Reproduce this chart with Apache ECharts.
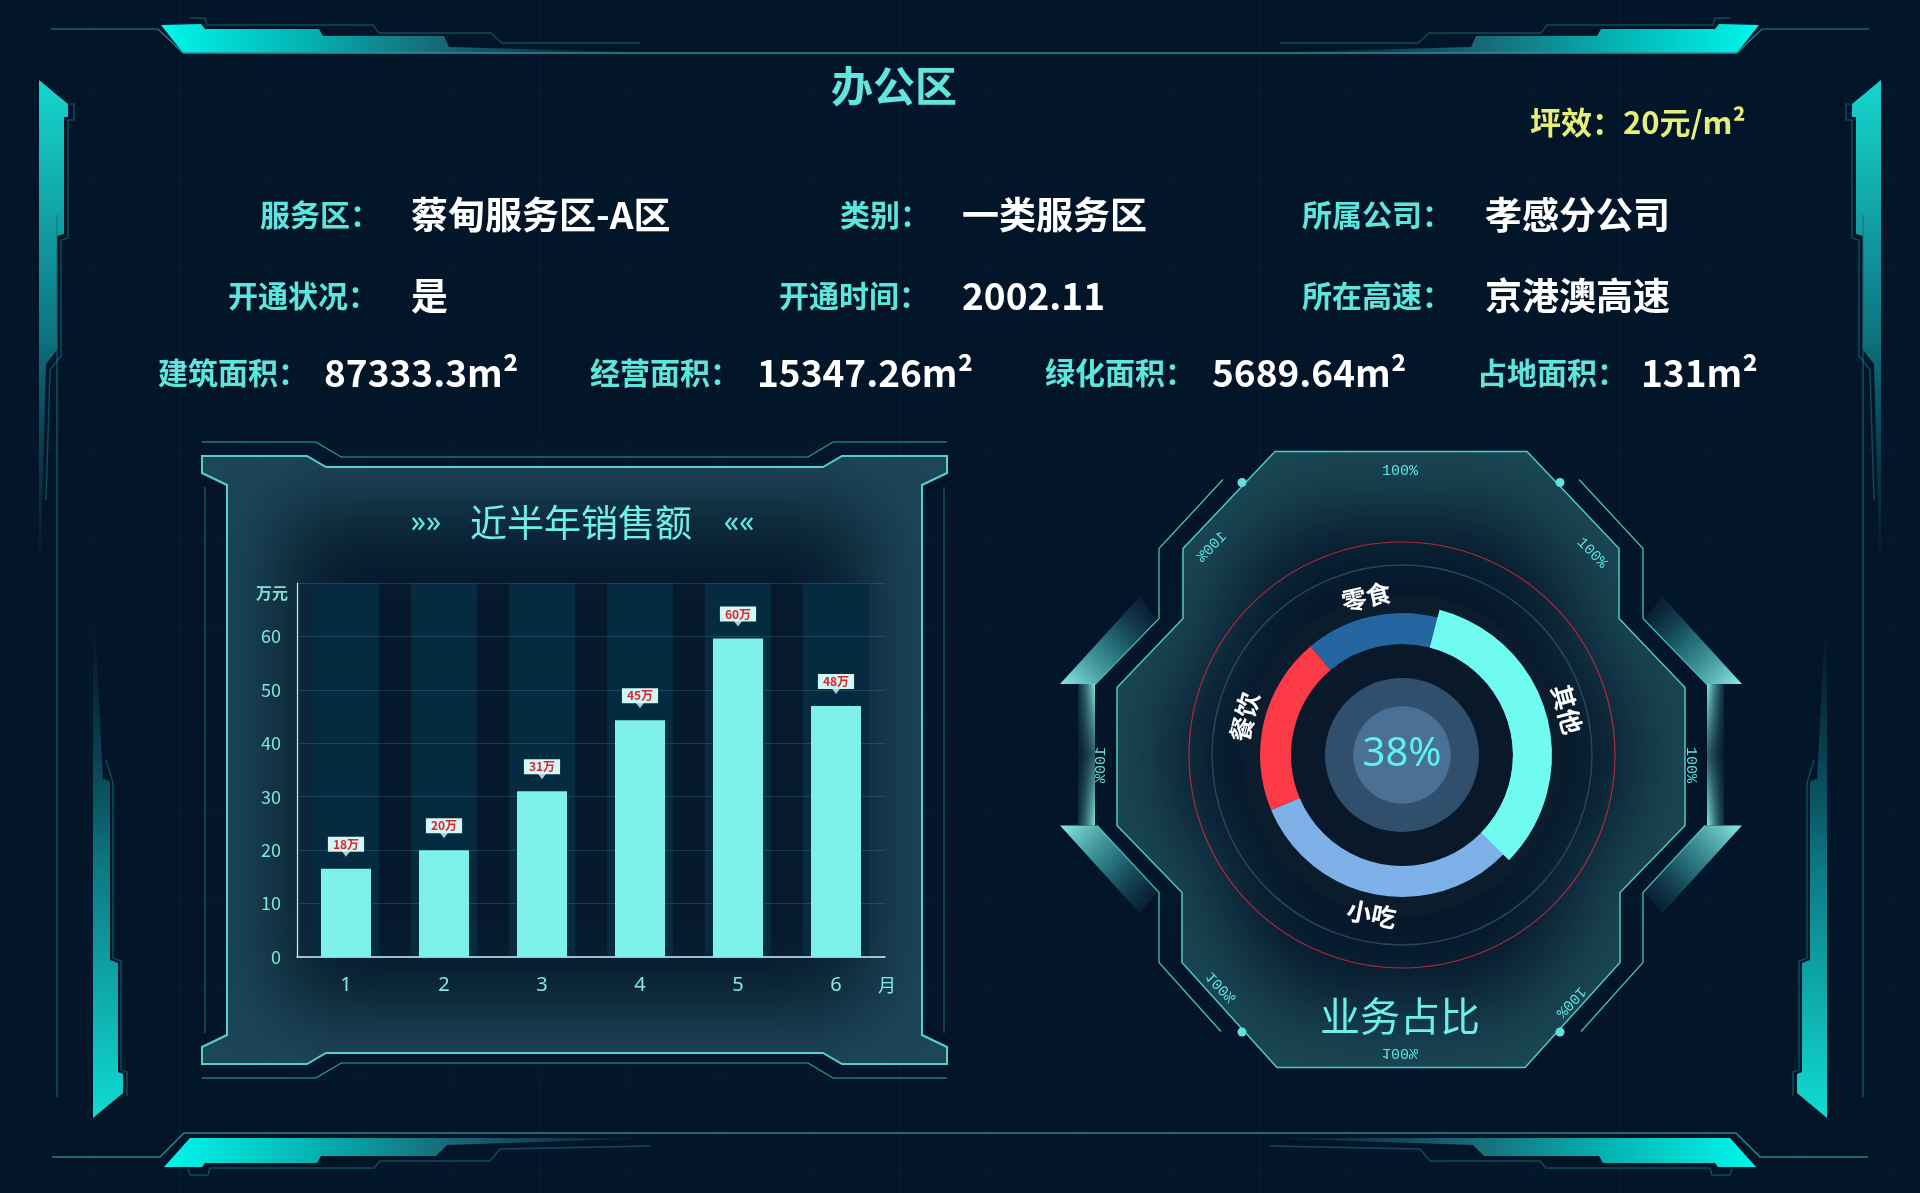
<!DOCTYPE html>
<html><head><meta charset="utf-8">
<script src="https://cdn.jsdelivr.net/npm/echarts@6/dist/echarts.min.js"></script>
<style>html,body{margin:0;padding:0;background:#031529;}#c{width:1920px;height:1193px;}</style>
</head><body><div id="c"></div>
<script>
// ---------------- data ----------------
const pageTitle = '办公区';
const efficiencyText = '坪效：20元/m²';
const row1Labels = ['服务区：', '类别：', '所属公司：'];
const row1Values = ['蔡甸服务区-A区', '一类服务区', '孝感分公司'];
const row2Labels = ['开通状况：', '开通时间：', '所在高速：'];
const row2Values = ['是', '2002.11', '京港澳高速'];
const row3Labels = ['建筑面积：', '经营面积：', '绿化面积：', '占地面积：'];
const row3Values = ['87333.3m²', '15347.26m²', '5689.64m²', '131m²'];

const salesTitle = '近半年销售额';
const months = ['1', '2', '3', '4', '5', '6'];
const sales = [16.5, 20, 31, 44.3, 59.6, 47];
const salesLabels = ['18万', '20万', '31万', '45万', '60万', '48万'];
const bandValues = [70, 70, 70, 70, 70, 70];
const yUnit = '万元';
const xUnit = '月';

const bizTitle = '业务占比';
const bizNames = ['其他', '小吃', '餐饮', '零食'];
const bizValues = [33, 31, 20, 15];
const bizColors = ['#6ffbf0', '#7eb1e8', '#fd3b48', '#2366a1'];
const centerPercent = '38%';
const ringTickText = '100%';

// ---------------- helpers ----------------
const W = 1920, H = 1193;
const CJK = '"Noto Sans CJK SC", "Noto Sans", sans-serif';
const LG = (x0, y0, x1, y1, stops) => new echarts.graphic.LinearGradient(x0, y0, x1, y1, stops.map(s => ({offset: s[0], color: s[1]})));
const mx = pts => pts.map(p => [W - p[0], p[1]]);
const g = [];
const OFF = 4000;
function poly(points, style, z) { g.push({type: 'polygon', shape: {points}, style, z: z === undefined ? -10 : z, silent: true}); }
function pline(points, stroke, lw, z) { g.push({type: 'polyline', shape: {points}, style: {stroke, lineWidth: lw, fill: null}, z: z === undefined ? -10 : z, silent: true}); }
function circ(cx, cy, r, style, z) { g.push({type: 'circle', shape: {cx, cy, r}, style, z: z === undefined ? -10 : z, silent: true}); }
// soft dark shape: drawn off-canvas, only its blurred shadow lands on the page
function softPoly(points, color, blur, z) {
  g.push({type: 'polygon', shape: {points: points.map(p => [p[0] - OFF, p[1]])},
    style: {fill: color, shadowBlur: blur, shadowColor: color, shadowOffsetX: OFF, shadowOffsetY: 0}, z, silent: true});
}
function txt(x, y, text, o) {
  g.push({type: 'text', x, y, rotation: o.rotation || 0, scaleX: o.scaleX || 1, scaleY: o.scaleY || 1,
    z: o.z === undefined ? 5 : o.z, silent: true,
    style: {text, fill: o.fill, fontSize: o.fontSize, fontFamily: o.fontFamily || CJK,
      fontWeight: o.fontWeight || 'normal', align: o.align || 'left', verticalAlign: 'middle'}});
}

// background grid
for (let x = 90; x < W; x += 90) g.push({type: 'line', shape: {x1: x, y1: 0, x2: x, y2: H}, style: {stroke: 'rgba(40,110,140,0.12)', lineWidth: 1}, z: -20, silent: true});
for (let y = 90; y < H; y += 90) g.push({type: 'line', shape: {x1: 0, y1: y, x2: W, y2: y}, style: {stroke: 'rgba(40,110,140,0.12)', lineWidth: 1}, z: -20, silent: true});

// top decoration
const topFill = [[161,25],[201,24],[205,29],[319,29],[323,36],[444,36],[449,47],[640,52],[640,53],[183,53]];
const decoStops = [[0,'#00f7ec'],[0.3,'#03b3b2'],[0.6,'#1a6272'],[1,'rgba(30,90,110,0)']];
poly(topFill, {fill: LG(0,0,1,0,decoStops)});
poly(mx(topFill), {fill: LG(1,0,0,0,decoStops)});
pline([[183,53],[W-183,53]], '#2c8e9a', 1.5);
pline([[51,29],[158,29],[183,53]], '#2a8391', 1.2);
pline(mx([[51,29],[158,29],[183,53]]), '#2a8391', 1.2);
const topStep = [[190,18],[205,18],[207,25],[373,25],[379,33],[491,33],[502,43],[640,43]];
pline(topStep, '#0f4b5b', 1.5); pline(mx(topStep), '#0f4b5b', 1.5);

// bottom decoration
pline([[52,1157],[160,1157],[184,1133],[W-184,1133],[W-160,1157],[W-52,1157]], '#2a8290', 1.5);
const botFill = [[190,1138],[661,1138],[447,1145],[436,1156],[321,1156],[317,1163],[205,1163],[202,1167],[164,1167]];
poly(botFill, {fill: LG(0,0,1,0,decoStops)});
poly(mx(botFill), {fill: LG(1,0,0,0,decoStops)});
const botStep = [[188,1169],[190,1175],[208,1175],[210,1168],[374,1168],[380,1161],[490,1161],[500,1149],[650,1146]];
pline(botStep, '#0f4b5b', 1.5); pline(mx(botStep), '#0f4b5b', 1.5);

// side bars
const upBar = [[39,80],[68,104],[68,117],[64,117],[64,234],[57,236],[57,350],[46,364],[40,580],[39,580]];
const upBarFill = () => LG(0,0,0,1,[[0,'#16d6ce'],[0.5,'#0e7682'],[1,'rgba(20,80,100,0)']]);
poly(upBar, {fill: upBarFill()}); poly(mx(upBar), {fill: upBarFill()});
const upOut = [[70,104],[74,104],[74,120],[68,120],[68,238],[61,240],[61,356],[50,370],[46,500]];
pline(upOut, '#0e4b5a', 1.5); pline(mx(upOut), '#0e4b5a', 1.5);
pline([[57,215],[57,1097]], '#1b6a78', 1); pline(mx([[57,215],[57,1097]]), '#1b6a78', 1);
const lowBar = [[93,623],[95,623],[103,779],[110,781],[110,960],[118,963],[118,1072],[123,1074],[123,1093],[93,1118]];
const lowBarFill = () => LG(0,0,0,1,[[0,'rgba(20,80,100,0)'],[0.5,'#0d7a84'],[1,'#10dbd2']]);
poly(lowBar, {fill: lowBarFill()}); poly(mx(lowBar), {fill: lowBarFill()});
const lowOut = [[106,760],[113,783],[113,958],[121,961],[121,1070],[127,1072],[127,1096]];
pline(lowOut, '#0e4b5a', 1.5); pline(mx(lowOut), '#0e4b5a', 1.5);

// bar panel
const panelPts = [[202,456],[307,456],[326,467],[823,467],[842,456],[947,456],[947,473],[922,485],[922,1035],[947,1047],[947,1064],[842,1064],[823,1053],[326,1053],[307,1064],[202,1064],[202,1047],[227,1035],[227,485],[202,473]];
poly(panelPts, {fill: '#1c4757'});
softPoly([[282,510],[867,510],[867,1008],[282,1008]], '#05182c', 80, -9);
poly(panelPts, {fill: null, stroke: '#55d0ce', lineWidth: 2}, -8);
pline([[202,442],[316,442],[341,457],[808,457],[833,442],[947,442]], '#3aa6aa', 1.2);
pline([[202,1078],[316,1078],[341,1063],[808,1063],[833,1078],[947,1078]], '#3aa6aa', 1.2);
pline([[205,487],[205,1033]], '#1f5d6a', 1.2); pline([[944,487],[944,1033]], '#1f5d6a', 1.2);

// octagon panel
const OX = 1401, OY = 759.5;
const octRel = [[-126,-308],[-218,-211],[-218,-141],[-284,-72],[-284,66],[-219,133],[-219,203],[-124,308],[124,308],[219,203],[219,133],[284,66],[284,-72],[218,-141],[218,-211],[126,-308]];
const oct = octRel.map(p => [OX + p[0], OY + p[1]]);
poly(oct, {fill: '#1a4654'});
softPoly(octRel.map(p => [OX + p[0] * 0.8, OY + p[1] * 0.8]), '#05172b', 80, -9);
poly(oct, {fill: null, stroke: '#4fc9c6', lineWidth: 1.5}, -8);
const bracketTL = [[-178,-280],[-242,-211],[-242,-141],[-306,-75]];
const bracketBL = [[-304,66],[-242,133],[-242,203],[-180,272]];
[bracketTL, bracketBL].forEach(b => {
  pline(b.map(p => [OX + p[0], OY + p[1]]), '#45bdbb', 1.3, -8);
  pline(b.map(p => [OX - p[0], OY + p[1]]), '#45bdbb', 1.3, -8);
});
const wingU = [[-341,-75.5],[-306,-75.5],[-244,-140],[-261,-163]];
const wingL = [[-341,66],[-304,66],[-243,132],[-261,154]];
const wingStops = [[0,'#8aece6'],[0.5,'rgba(60,170,175,0.6)'],[1,'rgba(30,90,110,0)']];
[1, -1].forEach(s => {
  poly(wingU.map(p => [OX + s * p[0], OY + p[1]]), {fill: LG(s > 0 ? 0 : 1, 1, s > 0 ? 1 : 0, 0, wingStops)}, -8);
  poly(wingL.map(p => [OX + s * p[0], OY + p[1]]), {fill: LG(s > 0 ? 0 : 1, 0, s > 0 ? 1 : 0, 1, wingStops)}, -8);
  const sx = s > 0 ? OX - 323 : OX + 306;
  g.push({type: 'rect', shape: {x: sx, y: OY - 75.5, width: 17, height: 141.5},
    style: {fill: LG(s > 0 ? 0 : 1, 0, s > 0 ? 1 : 0, 0, [[0,'rgba(20,70,80,0.5)'],[1,'#86e9e3']])}, z: -8, silent: true});
  g.push({type: 'rect', shape: {x: sx, y: OY - 75.5, width: 17, height: 141.5},
    style: {fill: LG(0,0,0,1, [[0,'rgba(4,20,40,0)'],[0.5,'rgba(4,20,40,0.65)'],[1,'rgba(4,20,40,0)']])}, z: -8, silent: true});
});
[[-159,-277],[159,-277],[-159,272.5],[159,272.5]].forEach(p => circ(OX + p[0], OY + p[1], 4.5, {fill: '#62e0dc'}, -7));

// ring tick labels around octagon
const tickPos = [
  [1400, 471, 0, 1], [1592, 553, -0.8, 1], [1691, 765, -Math.PI / 2, 1], [1571, 1002, -2.33, 1],
  [1400, 1053, 0, -1], [1221, 987, -0.8, -1], [1101, 765, -Math.PI / 2, -1], [1212, 547, -2.33, -1]
];
tickPos.forEach(t => txt(t[0], t[1], ringTickText, {rotation: t[2], scaleY: t[3], fill: '#5ee6df', fontSize: 15, fontFamily: '"Liberation Mono", "DejaVu Sans Mono", monospace', align: 'center'}));

// donut decorations
const PX = 1402, PY = 755;
circ(PX, PY, 213, {fill: null, stroke: '#b0283c', lineWidth: 1.2}, -7);
circ(PX, PY, 190, {fill: null, stroke: '#2a4558', lineWidth: 1.5}, -7);
circ(PX, PY, 161, {fill: '#0b1c2d'}, -7);
circ(PX, PY, 111, {fill: '#0a192a'}, -6);
circ(PX, PY, 77, {fill: '#2f4f6d'}, -6);
circ(PX, PY, 48.7, {fill: '#4a7093'}, -6);
txt(PX, PY, centerPercent, {fill: '#5df2ea', fontSize: 40, fontFamily: '"Noto Sans", sans-serif', align: 'center'});
txt(1400, 1016, bizTitle, {fill: '#6ef0ea', fontSize: 40, align: 'center'});

// header texts
txt(894, 86, pageTitle, {fill: '#63e4dc', fontSize: 42, fontWeight: 'bold', align: 'center'});
txt(1530, 122, efficiencyText, {fill: '#e6ef78', fontSize: 31, fontWeight: 'bold'});
const LBL = '#5ce6dd', VAL = '#ffffff';
const rowsY = [215, 296, 373];
const row1LX = [260, 840, 1302], row1VX = [411, 962, 1485];
const row2LX = [228, 779, 1302], row2VX = [411, 962, 1485];
const row3LX = [158, 590, 1045, 1477], row3VX = [324, 757, 1212, 1641];
row1Labels.forEach((t, i) => { txt(row1LX[i], rowsY[0], t, {fill: LBL, fontSize: 30, fontWeight: 'bold'}); txt(row1VX[i], rowsY[0], row1Values[i], {fill: VAL, fontSize: 37, fontWeight: 'bold'}); });
row2Labels.forEach((t, i) => { txt(row2LX[i], rowsY[1], t, {fill: LBL, fontSize: 30, fontWeight: 'bold'}); txt(row2VX[i], rowsY[1], row2Values[i], {fill: VAL, fontSize: 37, fontWeight: 'bold'}); });
row3Labels.forEach((t, i) => { txt(row3LX[i], rowsY[2], t, {fill: LBL, fontSize: 30, fontWeight: 'bold'}); txt(row3VX[i], rowsY[2], row3Values[i], {fill: VAL, fontSize: 37, fontWeight: 'bold'}); });

// panel title
txt(426, 523, '»»', {fill: '#5ee8e0', fontSize: 30, fontFamily: '"Noto Sans", sans-serif', align: 'center'});
txt(581, 523, salesTitle, {fill: '#6ff0e8', fontSize: 37, align: 'center'});
txt(739, 523, '««', {fill: '#5ee8e0', fontSize: 30, fontFamily: '"Noto Sans", sans-serif', align: 'center'});

// ---------------- chart ----------------
const chart = echarts.init(document.getElementById('c'), null, {renderer: 'canvas', width: W, height: H});
const axisTextColor = '#7fe3dc';
const option = {
  backgroundColor: '#031529',
  animation: false,
  graphic: {elements: g},
  grid: {left: 297, right: W - 885, top: 583, bottom: H - 957, containLabel: false},
  xAxis: [
    {type: 'category', data: months, gridIndex: 0,
      axisLine: {show: true, lineStyle: {color: '#cdeff0', width: 1.5}}, axisTick: {show: false},
      axisLabel: {color: '#86e8e2', fontSize: 20, margin: 18, fontFamily: '"Noto Sans", sans-serif'},
      name: xUnit, nameLocation: 'end', nameGap: -7,
      nameTextStyle: {color: '#86e8e2', fontSize: 18, fontFamily: CJK, verticalAlign: 'top', lineHeight: 57}},
    {type: 'category', data: months, gridIndex: 0, show: false}
  ],
  yAxis: [{type: 'value', min: 0, max: 70, interval: 10,
    axisLine: {show: true, lineStyle: {color: '#cdeff0', width: 1.2}}, axisTick: {show: false},
    splitLine: {show: true, lineStyle: {color: 'rgba(60,120,140,0.35)', width: 1}},
    axisLabel: {color: axisTextColor, fontSize: 18, margin: 16, fontFamily: CJK, padding: [0, 0, 9, 0],
      formatter: v => (v === 70 ? '' : String(v))},
    name: yUnit, nameLocation: 'end', nameGap: -18,
    nameTextStyle: {color: axisTextColor, fontSize: 16, fontWeight: 'bold', fontFamily: CJK, padding: [0, 50, 0, 0]}}],
  series: [
    {type: 'bar', xAxisIndex: 1, yAxisIndex: 0, data: bandValues, barWidth: 66, silent: true, z: -1,
      itemStyle: {color: '#062b40'}},
    {type: 'bar', xAxisIndex: 0, yAxisIndex: 0, data: sales, barWidth: 50, silent: true, z: 3,
      itemStyle: {color: '#7ef1ea'},
      label: {show: true, position: 'top', distance: 17, formatter: p => salesLabels[p.dataIndex],
        backgroundColor: '#d2f8f6', color: '#e0232b', fontSize: 12, fontWeight: 'bold', fontFamily: CJK,
        padding: [1, 5], lineHeight: 13}},
    {type: 'scatter', xAxisIndex: 0, yAxisIndex: 0, data: sales, symbol: 'triangle', symbolRotate: 180,
      symbolSize: [9, 6], symbolOffset: [0, -15], itemStyle: {color: '#d2f8f6'}, z: 4, silent: true},
    {type: 'pie', center: [PX, PY], radius: [111, 142], startAngle: 75.5, clockwise: true, silent: true, z: 3,
      label: {show: false}, labelLine: {show: false},
      data: bizNames.map((n, i) => ({name: n, value: bizValues[i], itemStyle: {color: bizColors[i]}}))},
    {type: 'pie', center: [PX, PY], radius: [111, 150], startAngle: 75.5, clockwise: true, silent: true, z: 4,
      label: {show: false}, labelLine: {show: false},
      data: bizNames.map((n, i) => ({name: n, value: bizValues[i], itemStyle: {color: i === 0 ? bizColors[i] : 'rgba(0,0,0,0)'}}))},
    {type: 'pie', center: [PX, PY], radius: [144, 174], startAngle: 75.5, clockwise: true, silent: true, z: 5,
      labelLine: {show: false},
      label: {show: true, position: 'inside', rotate: 'tangential', color: '#ffffff', fontSize: 25, fontWeight: 'bold', fontFamily: CJK, formatter: '{b}'},
      data: bizNames.map((n, i) => ({name: n, value: bizValues[i], itemStyle: {color: 'rgba(0,0,0,0)'}, label: {show: i !== 0}}))},
    {type: 'pie', center: [PX, PY], radius: [153, 183], startAngle: 75.5, clockwise: true, silent: true, z: 5,
      labelLine: {show: false},
      label: {show: true, position: 'inside', rotate: 'tangential', color: '#ffffff', fontSize: 25, fontWeight: 'bold', fontFamily: CJK, formatter: '{b}'},
      data: bizNames.map((n, i) => ({name: n, value: bizValues[i], itemStyle: {color: 'rgba(0,0,0,0)'}, label: {show: i === 0}}))}
  ]
};
chart.setOption(option);
</script>
</body></html>
